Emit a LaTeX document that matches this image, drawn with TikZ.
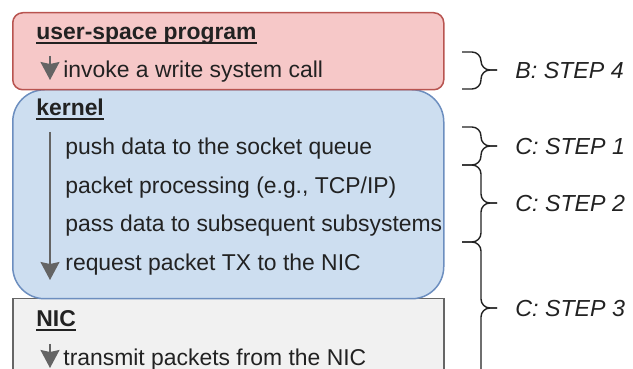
\documentclass[tikz,border=0pt]{standalone}
\usepackage{fontspec}
\setmainfont{Liberation Sans}
\usetikzlibrary{positioning, arrows.meta}
\definecolor{userfill}{RGB}{246,200,200}
\definecolor{userdraw}{RGB}{184,84,80}
\definecolor{kernfill}{RGB}{205,222,240}
\definecolor{kerndraw}{RGB}{108,142,191}
\definecolor{nicfill}{RGB}{241,241,241}
\definecolor{nicdraw}{RGB}{102,102,102}
\definecolor{flowgray}{RGB}{100,100,100}
\definecolor{inkgray}{RGB}{34,34,34}
\tikzset{%
  box/.style      = {draw, line width = 0.75pt, rectangle, anchor = north west,
    minimum width = 215.5pt, inner sep = 0pt},
  userbox/.style  = {box, fill = userfill, draw = userdraw, rounded corners = 5pt},
  kernbox/.style  = {box, fill = kernfill, draw = kerndraw, rounded corners = 16pt},
  nicbox/.style   = {box, fill = nicfill, draw = nicdraw},
  txt/.style      = {anchor = base west, inner sep = 0pt, text = inkgray}, % Text line
  steplabel/.style = {txt, font = \fontsize{11.6}{13}\selectfont\itshape}, % Step name
  flow/.style     = {draw = flowgray, line width = 0.7pt,
    -{Stealth[width=9.5pt,length=9pt,inset=1pt]}}, % Flow arrow
  stepbrace/.style = {draw = inkgray, line width = 0.7pt, rounded corners = 4.5pt}
}
\newcommand{\layer}[1]{\setbox0\hbox{\textbf{#1}}%
  \rlap{\rule[-2.1pt]{\wd0}{0.95pt}}\box0}

\begin{document}
\begin{tikzpicture}[x = 0.5pt, y = -0.5pt, font = \fontsize{11.45}{13}\selectfont]
\useasboundingbox (0,0) rectangle (633,369);
\clip (0,0) rectangle (633,369);
% boxes
\node [nicbox, minimum height = 45pt] (nic) at (12,298) {};
\node [kernbox, minimum height = 104.5pt] (kern) at (12,89) {};
\node [userbox, minimum height = 38.5pt] (user) at (12,12) {};
% user-space text
\draw
	(36,40) node [txt] (tuser) {\layer{user-space program}}
	(63,78) node [txt] (twrite) {invoke a write system call};
% kernel text
\draw
	(36,116) node [txt] (tkern) {\layer{kernel}}
	(65,155) node [txt] (tpush) {push data to the socket queue}
	(65,193.5) node [txt] (tproc) {packet processing (e.g., TCP/IP)}
	(65,232) node [txt] (tpass) {pass data to subsequent subsystems}
	(65,270.5) node [txt] (treq) {request packet TX to the NIC};
% NIC text
\draw
	(36,327) node [txt] (tnic) {\layer{NIC}}
	(63,365) node [txt] (tsend) {transmit packets from the NIC};
% flow arrows
\coordinate (ua) at (50,56);
\coordinate (ub) at (50,80);
\coordinate (ka) at (50,132);
\coordinate (kb) at (50,280);
\coordinate (na) at (50,344);
\coordinate (nb) at (50,368);
\draw[flow] (ua) -- (ub);
\draw[flow] (ka) -- (kb);
\draw[flow] (na) -- (nb);
% braces
\draw[stepbrace] (462,52) -- (481,52) -- (481,70) -- (497,70);
\draw[stepbrace] (462,89) -- (481,89) -- (481,70) -- (497,70);
\draw[stepbrace] (462,127) -- (481,127) -- (481,146) -- (497,146);
\draw[stepbrace] (462,165) -- (481,165) -- (481,146) -- (497,146);
\draw[stepbrace] (462,165) -- (481,165) -- (481,203) -- (497,203);
\draw[stepbrace] (462,242) -- (481,242) -- (481,203) -- (497,203);
\draw[stepbrace] (462,242) -- (481,242) -- (481,308) -- (497,308);
\draw[stepbrace] (481,380) -- (481,308) -- (497,308);
% step labels
\draw
	(515,79) node [steplabel] (sb4) {B: STEP 4}
	(515,155) node [steplabel] (sc1) {C: STEP 1}
	(515,212) node [steplabel] (sc2) {C: STEP 2}
	(515,316) node [steplabel] (sc3) {C: STEP 3};
\end{tikzpicture}
\end{document}
